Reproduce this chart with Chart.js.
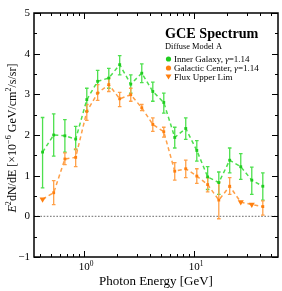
<!DOCTYPE html>
<html>
<head>
<meta charset="utf-8">
<script src="https://cdn.jsdelivr.net/npm/chart.js@4.4.1/dist/chart.umd.min.js"></script>
<style>
  html, body { margin: 0; padding: 0; background: #fff; }
  #wrap { width: 282px; height: 291px; }
</style>
</head>
<body>
<div id="wrap"><canvas id="c" width="282" height="291"></canvas></div>
<script>
// ── DATA ───────────────────────────────────────
const energies = [0.42, 0.53, 0.67, 0.84, 1.06, 1.33, 1.68, 2.11, 2.66, 3.35, 4.22,
                  5.31, 6.68, 8.41, 10.6, 13.3, 16.8, 21.1, 26.6, 33.5, 42.2];

// Inner Galaxy, gamma=1.14
const innerVal = [1.58, 2.00, 1.98, 1.90, 2.87, 3.32, 3.40, 3.73, 3.25, 3.52, 3.07,
                  2.80, 1.94, 2.16, 1.62, 0.97, 0.83, 1.38, 1.22, 0.89, 0.74];
const innerLo  = [0.70, 1.48, 1.58, 1.64, 2.58, 3.03, 3.15, 3.48, 3.03, 3.29, 2.83,
                  2.54, 1.68, 1.89, 1.36, 0.66, 0.54, 1.07, 0.91, 0.54, 0.40];
const innerHi  = [2.43, 2.52, 2.38, 2.21, 3.15, 3.59, 3.64, 3.95, 3.48, 3.75, 3.30,
                  3.03, 2.19, 2.42, 1.86, 1.22, 1.09, 1.68, 1.54, 1.21, 1.07];

// Galactic Center, gamma=1.14
const centerVal = [0.42, 0.58, 1.41, 1.45, 2.58, 3.03, 3.24, 2.89, 2.99, 2.67, 2.26,
                   2.08, 1.11, 1.17, 0.99, 0.78, 0.40, 0.74, 0.35, 0.29, 0.24];
const centerLo  = [null, 0.29, 1.27, 1.22, 2.36, 2.85, 3.07, 2.70, 2.83, 2.60, 2.09,
                   1.95, 0.89, 0.95, 0.81, 0.60, -0.06, 0.54, null, null, 0.03];
const centerHi  = [null, 0.88, 1.56, 1.66, 2.75, 3.24, 3.40, 3.05, 3.15, 2.75, 2.42,
                   2.19, 1.32, 1.38, 1.17, 0.95, 0.84, 0.95, null, null, 0.38];
// upper limits (drawn as down triangles)
const centerUL  = [1, 0, 0, 0, 0, 0, 0, 0, 0, 0, 0, 0, 0, 0, 0, 0, 0, 0, 1, 1, 0];

const yTicks = [-1, 0, 1, 2, 3, 4, 5];
const xMajor = [1, 10];
const xMinor = [0.4, 0.5, 0.6, 0.7, 0.8, 0.9, 2, 3, 4, 5, 6, 7, 8, 9, 20, 30, 40, 50];

// ── STYLE ──────────────────────────────────────
const GREEN      = '#1fcc1f';
const GREEN_BAR  = '#4ee04e';
const ORANGE     = '#ff7f0e';
const ORANGE_BAR = '#ffa048';
const SERIF  = '"Liberation Serif", "DejaVu Serif", serif';

// ── TEXT HELPER (superscripts, italics) ────────
function drawRich(ctx, parts, x, y, size, align) {
  const fontOf = p => `${p.it ? 'italic ' : ''}${p.b ? 'bold ' : ''}${p.sup ? size * 0.68 : size}px ${SERIF}`;
  let w = 0;
  parts.forEach(p => { ctx.font = fontOf(p); w += ctx.measureText(p.t).width; });
  let cx = align === 'center' ? x - w / 2 : align === 'right' ? x - w : x;
  ctx.textAlign = 'left';
  ctx.textBaseline = 'alphabetic';
  parts.forEach(p => {
    ctx.font = fontOf(p);
    ctx.fillText(p.t, cx, p.sup ? y - size * 0.4 : y);
    cx += ctx.measureText(p.t).width;
  });
}

// ── PLUGIN: frame, ticks, labels, error bars ───
const decor = {
  id: 'decor',
  beforeDatasetsDraw(chart) {
    const { ctx, chartArea: a, scales: { x, y } } = chart;
    ctx.save();
    // zero line
    ctx.strokeStyle = '#888';
    ctx.lineWidth = 1.4;
    ctx.setLineDash([1.6, 1.6]);
    ctx.beginPath();
    ctx.moveTo(a.left, y.getPixelForValue(0));
    ctx.lineTo(a.right, y.getPixelForValue(0));
    ctx.stroke();
    ctx.setLineDash([]);

    // error bars
    const bars = (lo, hi, col) => {
      ctx.strokeStyle = col;
      ctx.lineWidth = 1.3;
      energies.forEach((e, i) => {
        if (lo[i] === null) return;
        const px = x.getPixelForValue(e);
        const y1 = y.getPixelForValue(lo[i]), y2 = y.getPixelForValue(hi[i]);
        ctx.beginPath();
        ctx.moveTo(px, y1); ctx.lineTo(px, y2);
        ctx.moveTo(px - 1.8, y1); ctx.lineTo(px + 1.8, y1);
        ctx.moveTo(px - 1.8, y2); ctx.lineTo(px + 1.8, y2);
        ctx.stroke();
      });
    };
    bars(innerLo, innerHi, GREEN_BAR);
    bars(centerLo, centerHi, ORANGE_BAR);
    ctx.restore();
  },
  afterDatasetsDraw(chart) {
    const { ctx, chartArea: a, scales: { x, y } } = chart;
    ctx.save();
    ctx.strokeStyle = '#000';
    ctx.fillStyle = '#000';

    // ticks
    ctx.lineWidth = 1;
    ctx.beginPath();
    yTicks.forEach(v => {
      const py = Math.round(y.getPixelForValue(v)) + 0.5;
      ctx.moveTo(a.left, py); ctx.lineTo(a.left + 6, py);
      ctx.moveTo(a.right, py); ctx.lineTo(a.right - 6, py);
      if (v < 5) {
        const pm = Math.round(y.getPixelForValue(v + 0.5)) + 0.5;
        ctx.moveTo(a.left, pm); ctx.lineTo(a.left + 3, pm);
        ctx.moveTo(a.right, pm); ctx.lineTo(a.right - 3, pm);
      }
    });
    xMajor.forEach(v => {
      const px = Math.round(x.getPixelForValue(v)) + 0.5;
      ctx.moveTo(px, a.bottom); ctx.lineTo(px, a.bottom - 6);
      ctx.moveTo(px, a.top); ctx.lineTo(px, a.top + 6);
    });
    xMinor.forEach(v => {
      const px = Math.round(x.getPixelForValue(v)) + 0.5;
      ctx.moveTo(px, a.bottom); ctx.lineTo(px, a.bottom - 3);
      ctx.moveTo(px, a.top); ctx.lineTo(px, a.top + 3);
    });
    ctx.stroke();

    // frame
    ctx.lineWidth = 1.5;
    ctx.strokeRect(a.left, a.top, a.right - a.left, a.bottom - a.top);

    // y tick labels
    ctx.font = `11px ${SERIF}`;
    ctx.textAlign = 'right';
    ctx.textBaseline = 'middle';
    yTicks.forEach(v => {
      ctx.fillText(v < 0 ? '\u2212' + Math.abs(v) : String(v), a.left - 4, y.getPixelForValue(v));
    });

    // x tick labels
    xMajor.forEach((v, i) => {
      drawRich(ctx, [{ t: '10' }, { t: String(i), sup: true }], x.getPixelForValue(v) + 2, 270, 11, 'center');
    });

    // axis titles
    drawRich(ctx, [{ t: 'Photon Energy [GeV]' }], (a.left + a.right) / 2, 285, 13, 'center');
    ctx.save();
    ctx.translate(16, (a.top + a.bottom) / 2 + 3);
    ctx.rotate(-Math.PI / 2);
    drawRich(ctx, [
      { t: 'E', it: true }, { t: '2', sup: true }, { t: 'dN/dE [\u00d710' }, { t: '\u22126', sup: true },
      { t: ' GeV/cm' }, { t: '2', sup: true }, { t: '/s/sr]' }
    ], 0, 0, 12, 'center');
    ctx.restore();

    // title block + legend
    drawRich(ctx, [{ t: 'GCE Spectrum', b: true }], 165, 38, 14.2, 'left');
    drawRich(ctx, [{ t: 'Diffuse Model A' }], 165, 48.5, 8.4, 'left');
    const legend = [
      { txt: [{ t: 'Inner Galaxy, ' }, { t: '\u03b3', it: true }, { t: '=1.14' }], col: GREEN, tri: false, y: 59 },
      { txt: [{ t: 'Galactic Center, ' }, { t: '\u03b3', it: true }, { t: '=1.14' }], col: ORANGE, tri: false, y: 68 },
      { txt: [{ t: 'Flux Upper Lim' }], col: ORANGE, tri: true, y: 77 }
    ];
    legend.forEach(l => {
      ctx.fillStyle = l.col;
      ctx.beginPath();
      if (l.tri) {
        ctx.moveTo(165.5, l.y - 2.5); ctx.lineTo(171.5, l.y - 2.5); ctx.lineTo(168.5, l.y + 2.5);
        ctx.closePath();
      } else {
        ctx.arc(168.5, l.y, 2.6, 0, Math.PI * 2);
      }
      ctx.fill();
      ctx.fillStyle = '#000';
      drawRich(ctx, l.txt, 174, l.y + 3, 9, 'left');
    });
    ctx.restore();
  }
};

// ── CHART ──────────────────────────────────────
const toPts = vals => energies.map((e, i) => ({ x: e, y: vals[i] }));

new Chart(document.getElementById('c'), {
  type: 'scatter',
  data: {
    datasets: [
      {
        label: 'Inner Galaxy',
        data: toPts(innerVal),
        showLine: true,
        borderColor: GREEN_BAR,
        backgroundColor: GREEN,
        borderWidth: 1.5,
        borderDash: [4, 3],
        pointStyle: 'rect',
        pointRadius: 2,
        pointBorderWidth: 0
      },
      {
        label: 'Galactic Center',
        data: toPts(centerVal),
        showLine: true,
        borderColor: ORANGE_BAR,
        backgroundColor: ORANGE,
        borderWidth: 1.5,
        borderDash: [4, 3],
        pointStyle: centerUL.map(u => u ? 'triangle' : 'rect'),
        pointRotation: centerUL.map(u => u ? 180 : 0),
        pointRadius: centerUL.map(u => u ? 3.5 : 2),
        pointBorderWidth: 0
      }
    ]
  },
  options: {
    responsive: false,
    animation: false,
    events: [],
    layout: { padding: { left: 34, right: 4, top: 13, bottom: 34 } },
    plugins: { legend: { display: false }, tooltip: { enabled: false } },
    scales: {
      x: { type: 'logarithmic', min: 0.351, max: 58, display: false },
      y: { type: 'linear', min: -1, max: 5, display: false }
    }
  },
  plugins: [decor]
});
</script>
</body>
</html>
